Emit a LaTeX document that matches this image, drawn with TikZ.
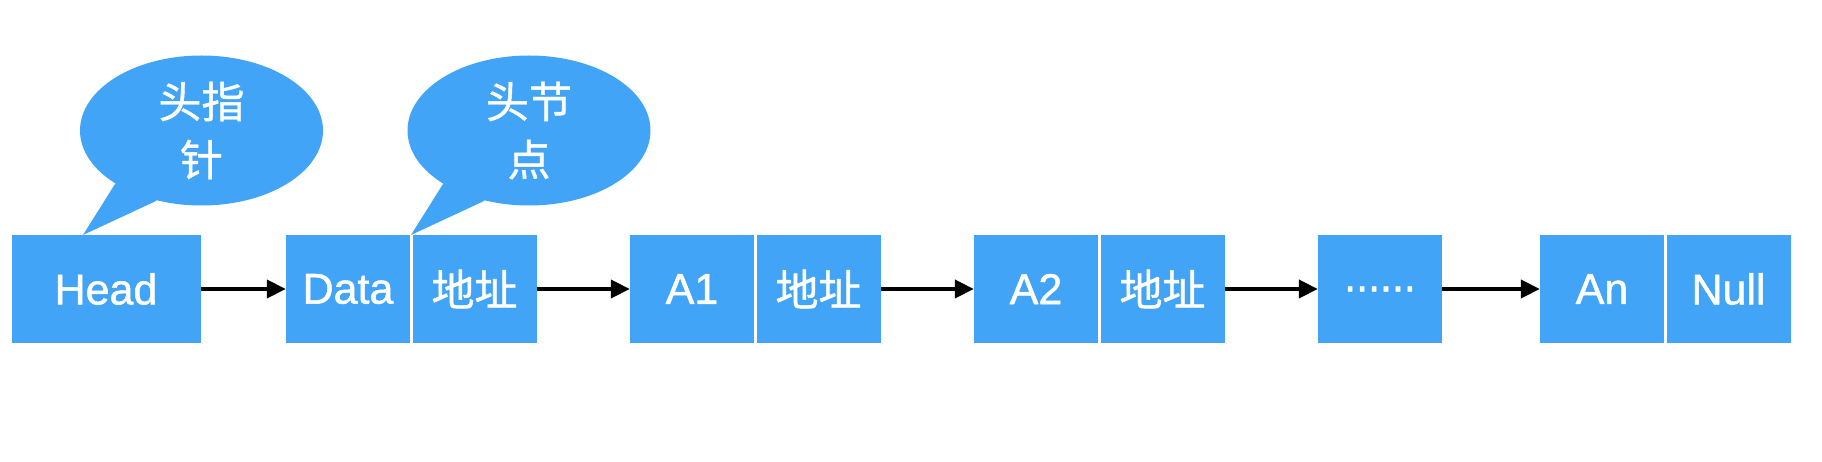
\documentclass[tikz,border=0pt]{standalone}
\usepackage{fontspec}
\setmainfont{Liberation Sans}[FakeBold=1.2]
\newfontfamily\latn{Liberation Sans}[FakeBold=1.2]
\newfontfamily\cjk{Noto Sans CJK SC}[FakeBold=1.0]
\usetikzlibrary{arrows.meta,shapes.geometric}
\definecolor{nodeblue}{RGB}{66,164,246}
\tikzset{
  x=1pt, y=1pt,
  cell/.style={rectangle, fill=nodeblue, text=white, inner sep=0pt,
    minimum height=108pt, minimum width=124pt,
    font=\latn\fontsize{43}{50}\selectfont},
  zh/.style={font=\cjk\fontsize{43}{50}\selectfont},
  bubble/.style={ellipse, fill=nodeblue, text=white, inner sep=0pt,
    minimum width=243pt, minimum height=150pt, align=center,
    font=\cjk\fontsize{43}{58}\selectfont},
  tail/.style={fill=nodeblue},
  link/.style={draw=black, line width=4pt,
    -{Triangle[length=19pt,width=18pt]}}
}
\begin{document}
\begin{tikzpicture}
\useasboundingbox (0,0) rectangle (1822,-462);
% bubbles
\fill[tail] (115,-184) -- (83,-235) -- (156,-201) -- (190,-140) -- cycle;
\node[bubble] (b1) at (201.5,-130.5) {头指\\针};
\fill[tail] (443,-184) -- (411,-235) -- (484,-201) -- (518,-140) -- cycle;
\node[bubble] (b2) at (529,-130.5) {头节\\点};
% boxes
\node[cell, minimum width=189pt] (head) at (106,-289) {Head};
\node[cell] (data) at (348,-289) {Data};
\node[cell, zh] (ad0) at (474.5,-289) {地址};
\node[cell] (a1) at (692,-289) {A1};
\node[cell, zh] (ad1) at (818.5,-289) {地址};
\node[cell] (a2) at (1036,-289) {A2};
\node[cell, zh] (ad2) at (1162.5,-289) {地址};
\node[cell] (dots) at (1380,-289) {......};
\node[cell] (an) at (1602,-289) {An};
\node[cell] (null) at (1728.5,-289) {Null};
% links
\draw[link] (head.east) -- (data.west);
\draw[link] (ad0.east) -- (a1.west);
\draw[link] (ad1.east) -- (a2.west);
\draw[link] (ad2.east) -- (dots.west);
\draw[link] (dots.east) -- (an.west);
\end{tikzpicture}
\end{document}
